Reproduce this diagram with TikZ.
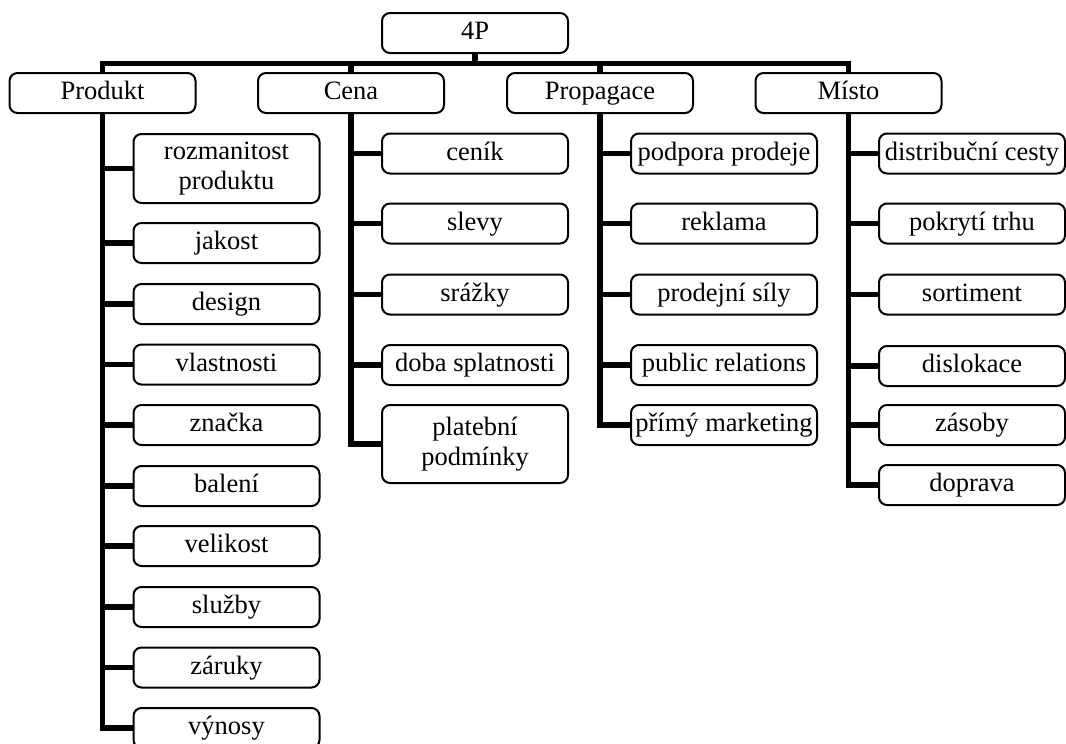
\documentclass[tikz,border=0pt]{standalone}
\usepackage{fontspec}
\setmainfont{Liberation Serif}
\tikzset{
	box/.style={draw, line width=2pt, rounded corners=8pt, minimum width=186pt, minimum height=40pt, inner sep=0pt, align=center, text height=19pt, text depth=6pt, font=\fontsize{26.5}{30}\selectfont},
	twoline/.style={text height={}, text depth={}},
	conn/.style={line width=5.5pt, line join=miter}
}

\begin{document}
\begin{tikzpicture}[x=1pt, y=-1pt]
			%%%%% START %%%%%
			\useasboundingbox (0, 0) rectangle (1066, 744);
			
			\node[box] (p4) at (475, 33) {4P};
			
			\node[box] (produkt) at (102.5, 93) {Produkt};
			\node[box] (cena) at (351, 93) {Cena};
			\node[box] (propagace) at (600, 93) {Propagace};
			\node[box] (misto) at (848.5, 93) {Místo};
			
			\coordinate (bus) at (475, 63.5);
			\draw[conn] (p4.south) -- (p4.south |- bus);
			\draw[conn] (produkt.north) -- (produkt.north |- bus) -- (misto.north |- bus) -- (misto.north);
			\draw[conn] (cena.north) -- (cena.north |- bus);
			\draw[conn] (propagace.north) -- (propagace.north |- bus);
			
			% Produkt
			\node[box, twoline, minimum height=69pt] (rozmanitost) at (226.5, 168.5) {rozmanitost\\produktu};
			\node[box] (jakost) at (226.5, 243) {jakost};
			\node[box] (design) at (226.5, 304) {design};
			\node[box] (vlastnosti) at (226.5, 364.5) {vlastnosti};
			\node[box] (znacka) at (226.5, 425) {značka};
			\node[box] (baleni) at (226.5, 486) {balení};
			\node[box] (velikost) at (226.5, 546) {velikost};
			\node[box] (sluzby) at (226.5, 607) {služby};
			\node[box] (zaruky) at (226.5, 667.5) {záruky};
			\node[box] (vynosy) at (226.5, 728) {výnosy};
			
			\draw[conn] (produkt.south) |- (vynosy.west);
			\draw[conn] (rozmanitost.west) -- (rozmanitost.west -| produkt.south);
			\draw[conn] (jakost.west) -- (jakost.west -| produkt.south);
			\draw[conn] (design.west) -- (design.west -| produkt.south);
			\draw[conn] (vlastnosti.west) -- (vlastnosti.west -| produkt.south);
			\draw[conn] (znacka.west) -- (znacka.west -| produkt.south);
			\draw[conn] (baleni.west) -- (baleni.west -| produkt.south);
			\draw[conn] (velikost.west) -- (velikost.west -| produkt.south);
			\draw[conn] (sluzby.west) -- (sluzby.west -| produkt.south);
			\draw[conn] (zaruky.west) -- (zaruky.west -| produkt.south);
			
			% Cena
			\node[box] (cenik) at (475, 153.5) {ceník};
			\node[box] (slevy) at (475, 223.5) {slevy};
			\node[box] (srazky) at (475, 294.5) {srážky};
			\node[box] (doba) at (475, 365) {doba splatnosti};
			\node[box, twoline, minimum height=78pt] (platebni) at (475, 444) {platební\\podmínky};
			
			\draw[conn] (cena.south) |- (platebni.west);
			\draw[conn] (cenik.west) -- (cenik.west -| cena.south);
			\draw[conn] (slevy.west) -- (slevy.west -| cena.south);
			\draw[conn] (srazky.west) -- (srazky.west -| cena.south);
			\draw[conn] (doba.west) -- (doba.west -| cena.south);
			
			% Propagace
			\node[box] (podpora) at (724, 153.5) {podpora prodeje};
			\node[box] (reklama) at (724, 223.5) {reklama};
			\node[box] (prodejni) at (724, 294.5) {prodejní síly};
			\node[box] (public) at (724, 365) {public relations};
			\node[box] (primy) at (724, 425) {přímý marketing};
			
			\draw[conn] (propagace.south) |- (primy.west);
			\draw[conn] (podpora.west) -- (podpora.west -| propagace.south);
			\draw[conn] (reklama.west) -- (reklama.west -| propagace.south);
			\draw[conn] (prodejni.west) -- (prodejni.west -| propagace.south);
			\draw[conn] (public.west) -- (public.west -| propagace.south);
			
			% Misto
			\node[box] (distribucni) at (972, 153.5) {distribuční cesty};
			\node[box] (pokryti) at (972, 223.5) {pokrytí trhu};
			\node[box] (sortiment) at (972, 294.5) {sortiment};
			\node[box] (dislokace) at (972, 366) {dislokace};
			\node[box] (zasoby) at (972, 425) {zásoby};
			\node[box] (doprava) at (972, 485) {doprava};
			
			\draw[conn] (misto.south) |- (doprava.west);
			\draw[conn] (distribucni.west) -- (distribucni.west -| misto.south);
			\draw[conn] (pokryti.west) -- (pokryti.west -| misto.south);
			\draw[conn] (sortiment.west) -- (sortiment.west -| misto.south);
			\draw[conn] (dislokace.west) -- (dislokace.west -| misto.south);
			\draw[conn] (zasoby.west) -- (zasoby.west -| misto.south);
			
			%%%%% END %%%%%
\end{tikzpicture}
\end{document}
